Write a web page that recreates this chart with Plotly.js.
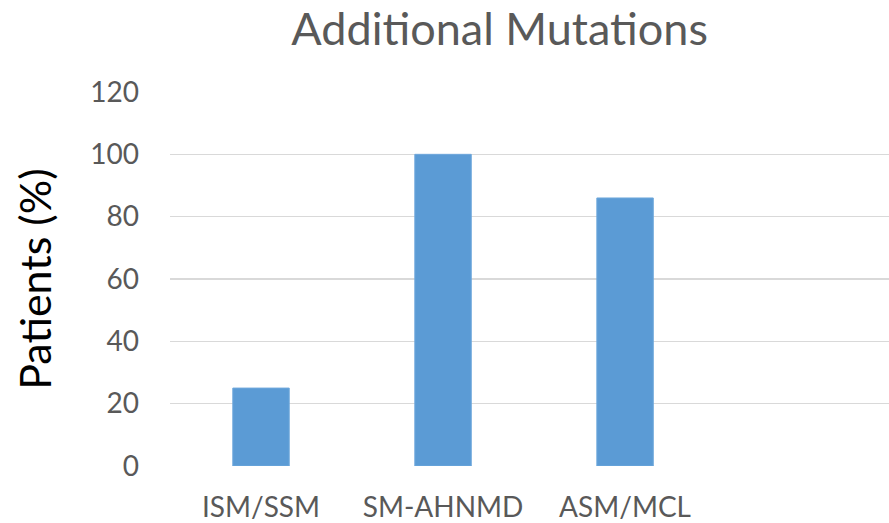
<!DOCTYPE html>
<html>
<head>
<meta charset="utf-8">
<script src="https://cdn.plot.ly/plotly-3.0.1.min.js"></script>
<style>html,body{margin:0;padding:0;background:#fff;}#chart{width:889px;height:523px;}</style>
</head>
<body>
<div id="chart"></div>
<script>
const categories = ['ISM/SSM', 'SM-AHNMD', 'ASM/MCL', ' '];
const patientsPct = [25, 100, 86, null];
const yTicks = [0, 20, 40, 60, 80, 100, 120];

const trace = {
  type: 'bar',
  x: categories,
  y: patientsPct,
  marker: {color: '#5b9bd5', line: {color: '#6fa8dc', width: 1}},
  width: 0.31,
  hoverinfo: 'skip'
};

const layout = {
  width: 889, height: 523,
  margin: {l: 170, r: 0, t: 92, b: 57},
  paper_bgcolor: '#ffffff', plot_bgcolor: '#ffffff',
  showlegend: false,
  font: {family: 'Lato, "Open Sans", sans-serif', color: '#595959'},
  title: {text: 'Additional Mutations', x: 0.562, xanchor: 'center', y: 0.945, yanchor: 'middle',
          font: {size: 45, color: '#595959', family: 'Lato, sans-serif'}},
  xaxis: {type: 'category', categoryorder: 'array', categoryarray: categories, range: [-0.5, 3.45],
          showgrid: false, zeroline: false, showline: false, ticks: '',
          tickfont: {size: 28, color: '#595959'}, ticklabelstandoff: 22, fixedrange: true},
  yaxis: {range: [0, 120], tickvals: yTicks, ticktext: yTicks.map(String),
          showgrid: true, gridcolor: '#d9d9d9', gridwidth: 1.5, zeroline: false, showline: false, ticks: '',
          tickfont: {size: 28, color: '#595959'}, ticklabelstandoff: 30,
          title: {text: 'Patients (%)', font: {size: 43, color: '#000000'}, standoff: 25},
          fixedrange: true}
};

Plotly.newPlot('chart', [trace], layout, {displayModeBar: false, staticPlot: true});
</script>
</body>
</html>
